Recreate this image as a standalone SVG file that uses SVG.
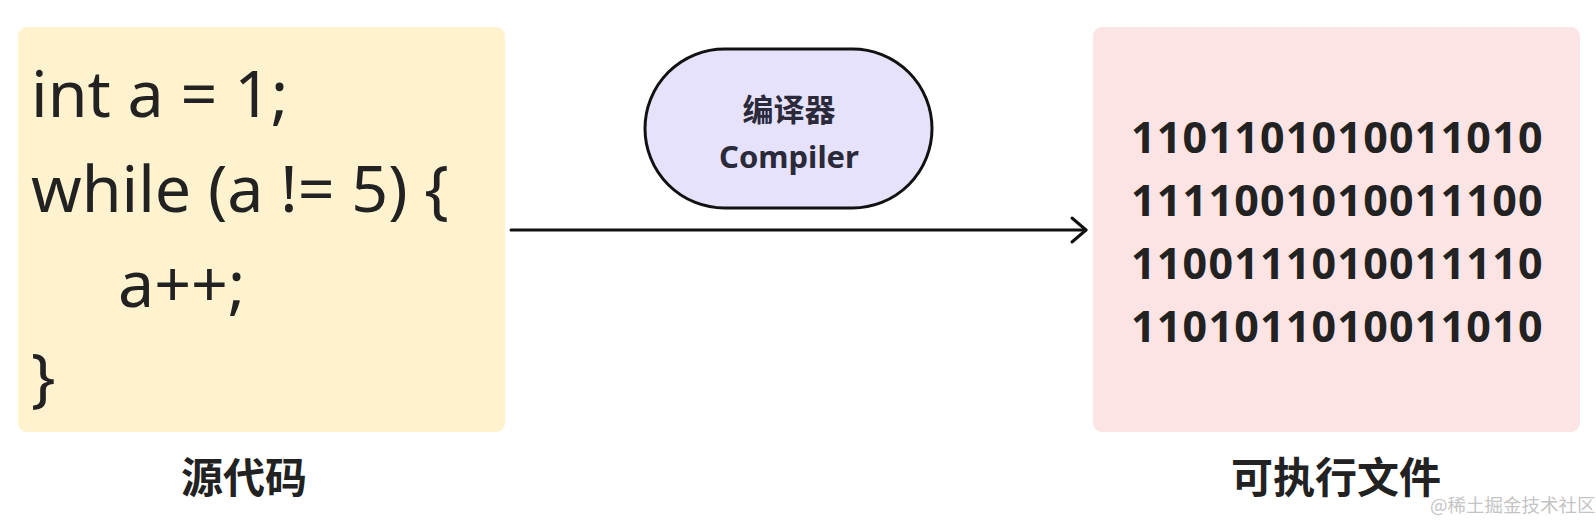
<svg xmlns="http://www.w3.org/2000/svg" width="1596" height="522" viewBox="0 0 1596 522">
<style>
.code{font-family:"Noto Sans","Open Sans",sans-serif;font-size:64.5px;fill:#222;}
.bin{font-family:"Noto Sans","Open Sans",sans-serif;font-size:43px;font-weight:bold;fill:#222;letter-spacing:1.2px;}
.lbl{font-family:"Noto Sans CJK SC",sans-serif;font-size:42px;font-weight:bold;fill:#222;text-anchor:middle;}
.pill{font-family:"Noto Sans","Noto Sans CJK SC",sans-serif;font-weight:bold;fill:#2a2a3a;text-anchor:middle;}
.wm{font-family:"Noto Sans CJK SC",sans-serif;font-size:18.5px;fill:#c4c4c4;}
</style>
<defs>
<marker id="arr" viewBox="0 0 20 30" refX="17" refY="15" markerWidth="20" markerHeight="30" markerUnits="userSpaceOnUse" orient="auto">
<path d="M3,3 L17,15 L3,27" fill="none" stroke="#111" stroke-width="3" stroke-linecap="round" stroke-linejoin="round"/>
</marker>
</defs>
<rect width="1596" height="522" fill="#fff"/>
<g id="connectors">
<line x1="511" y1="230" x2="1086" y2="230" stroke="#111" stroke-width="3" stroke-linecap="round" marker-end="url(#arr)"/>
</g>
<g id="source">
<rect x="18" y="27" width="487" height="405" rx="9" fill="#FEF2CF"/>
<text class="code" x="31" y="117">int a = 1;</text>
<text class="code" x="31" y="212">while (a != 5) {</text>
<text class="code" x="118" y="307">a++;</text>
<text class="code" x="31" y="400">}</text>
</g>
<g id="compiler">
<rect x="645" y="49" width="287" height="159" rx="79.5" fill="#E7E2FB" stroke="#111" stroke-width="3"/>
<text class="pill" x="789" y="121" font-size="31">编译器</text>
<text class="pill" x="789" y="168" font-size="31">Compiler</text>
</g>
<g id="binary">
<rect x="1093" y="27" width="487" height="405" rx="9" fill="#FDE4E4"/>
<text class="bin" x="1131" y="153">1101101010011010</text>
<text class="bin" x="1131" y="216">1111001010011100</text>
<text class="bin" x="1131" y="279">1100111010011110</text>
<text class="bin" x="1131" y="342">1101011010011010</text>
</g>
<g id="labels">
<text class="lbl" x="244" y="493">源代码</text>
<text class="lbl" x="1336" y="493">可执行文件</text>
<text class="wm" x="1430" y="512">@稀土掘金技术社区</text>
</g>
</svg>
